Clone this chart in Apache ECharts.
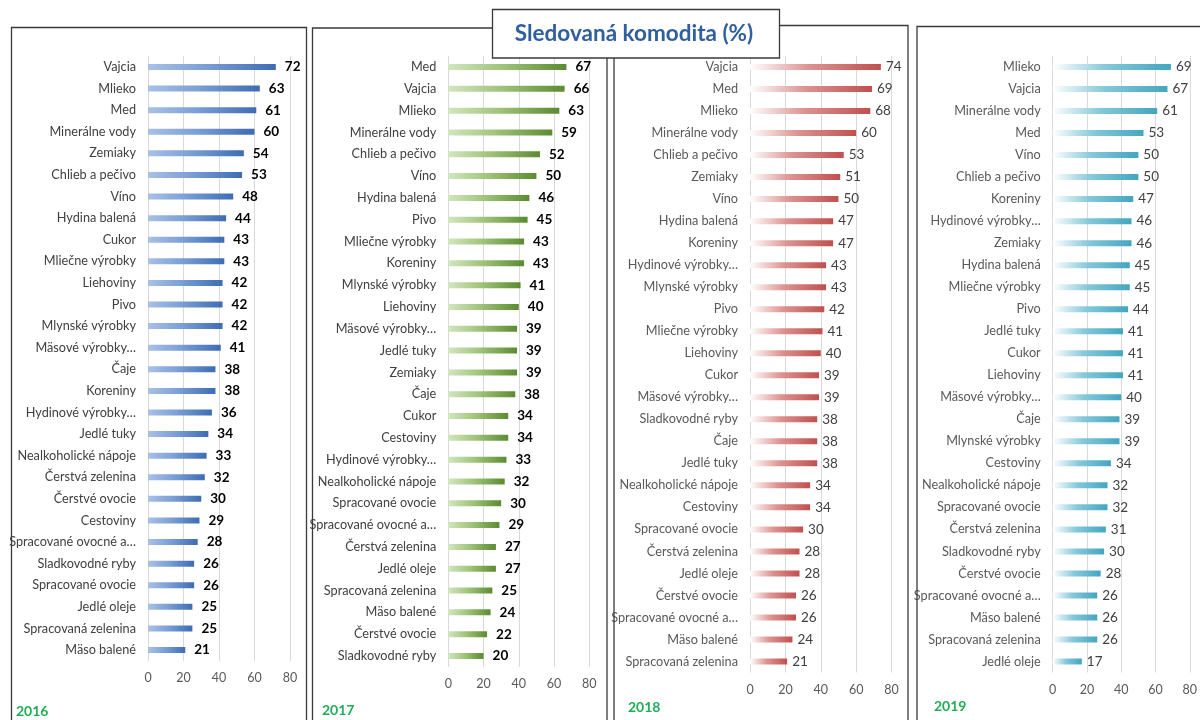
<!DOCTYPE html>
<html>
<head>
<meta charset="utf-8">
<script src="https://cdn.jsdelivr.net/npm/echarts@6/dist/echarts.min.js"></script>
<style>
html,body{margin:0;padding:0;background:#fff;}
#chart{width:1200px;height:720px;}
</style>
</head>
<body>
<div id="chart"></div>
<script>
const titleText = 'Sledovaná komodita (%)';
const years = ['2016', '2017', '2018', '2019'];
const axisTicks = [0, 20, 40, 60, 80];

const cats2016 = ['Vajcia','Mlieko','Med','Minerálne vody','Zemiaky','Chlieb a pečivo','Víno','Hydina balená','Cukor','Mliečne výrobky','Liehoviny','Pivo','Mlynské výrobky','Mäsové výrobky…','Čaje','Koreniny','Hydinové výrobky…','Jedlé tuky','Nealkoholické nápoje','Čerstvá zelenina','Čerstvé ovocie','Cestoviny','Spracované ovocné a…','Sladkovodné ryby','Spracované ovocie','Jedlé oleje','Spracovaná zelenina','Mäso balené'];
const vals2016 = [72,63,61,60,54,53,48,44,43,43,42,42,42,41,38,38,36,34,33,32,30,29,28,26,26,25,25,21];

const cats2017 = ['Med','Vajcia','Mlieko','Minerálne vody','Chlieb a pečivo','Víno','Hydina balená','Pivo','Mliečne výrobky','Koreniny','Mlynské výrobky','Liehoviny','Mäsové výrobky…','Jedlé tuky','Zemiaky','Čaje','Cukor','Cestoviny','Hydinové výrobky…','Nealkoholické nápoje','Spracované ovocie','Spracované ovocné a…','Čerstvá zelenina','Jedlé oleje','Spracovaná zelenina','Mäso balené','Čerstvé ovocie','Sladkovodné ryby'];
const vals2017 = [67,66,63,59,52,50,46,45,43,43,41,40,39,39,39,38,34,34,33,32,30,29,27,27,25,24,22,20];

const cats2018 = ['Vajcia','Med','Mlieko','Minerálne vody','Chlieb a pečivo','Zemiaky','Víno','Hydina balená','Koreniny','Hydinové výrobky…','Mlynské výrobky','Pivo','Mliečne výrobky','Liehoviny','Cukor','Mäsové výrobky…','Sladkovodné ryby','Čaje','Jedlé tuky','Nealkoholické nápoje','Cestoviny','Spracované ovocie','Čerstvá zelenina','Jedlé oleje','Čerstvé ovocie','Spracované ovocné a…','Mäso balené','Spracovaná zelenina'];
const vals2018 = [74,69,68,60,53,51,50,47,47,43,43,42,41,40,39,39,38,38,38,34,34,30,28,28,26,26,24,21];

const cats2019 = ['Mlieko','Vajcia','Minerálne vody','Med','Víno','Chlieb a pečivo','Koreniny','Hydinové výrobky…','Zemiaky','Hydina balená','Mliečne výrobky','Pivo','Jedlé tuky','Cukor','Liehoviny','Mäsové výrobky…','Čaje','Mlynské výrobky','Cestoviny','Nealkoholické nápoje','Spracované ovocie','Čerstvá zelenina','Sladkovodné ryby','Čerstvé ovocie','Spracované ovocné a…','Mäso balené','Spracovaná zelenina','Jedlé oleje'];
const vals2019 = [69,67,61,53,50,50,47,46,46,45,45,44,41,41,41,40,39,39,34,32,32,31,30,28,26,26,26,17];

const allCats = [cats2016, cats2017, cats2018, cats2019];
const allVals = [vals2016, vals2017, vals2018, vals2019];

const FONT = 'Lato, "Open Sans", sans-serif';

// layout per panel
const grids = [
  {left: 148, top: 56.2, width: 142, height: 604.6},
  {left: 448.3, top: 56.1, width: 141, height: 610.8},
  {left: 750, top: 56, width: 141.5, height: 616.5},
  {left: 1052.7, top: 56, width: 141, height: 616.5}
];
const panelRects = [
  {x: 11.5, y: 27.5, w: 295, h: 720},
  {x: 312.5, y: 28, w: 294.5, h: 720},
  {x: 614, y: 25.5, w: 294, h: 720},
  {x: 917, y: 26.5, w: 300, h: 720}
];
const yearPos = [[16, 711], [322, 710], [628, 707], [934, 706]];
const gradients = [
  ['#a9c1e6', '#7b9fd6', '#3d6cb4'],
  ['#d2e6bf', '#a0c47b', '#5b8b30'],
  ['#ffffff', '#dc9391', '#c0504d'],
  ['#ffffff', '#86c8da', '#42a6c0']
];
const catColors = ['#404040', '#404040', '#595959', '#595959'];
const labelStyles = [
  {color: '#000000', fontWeight: 'bold', fontSize: 13.5, distance: 9},
  {color: '#000000', fontWeight: 'bold', fontSize: 13.5, distance: 9},
  {color: '#404040', fontWeight: 'normal', fontSize: 13.5, distance: 5},
  {color: '#404040', fontWeight: 'normal', fontSize: 13.5, distance: 5}
];

const chart = echarts.init(document.getElementById('chart'));

const option = {
  animation: false,
  backgroundColor: '#ffffff',
  grid: grids.map(g => ({left: g.left, top: g.top, width: g.width, height: g.height, containLabel: false})),
  xAxis: grids.map((g, i) => ({
    type: 'value', gridIndex: i, min: axisTicks[0], max: axisTicks[axisTicks.length - 1], interval: 20,
    axisLine: {show: false}, axisTick: {show: false},
    splitLine: {show: true, lineStyle: {color: '#d9d9d9', width: 1}},
    axisLabel: {color: '#595959', fontSize: 12.5, fontFamily: FONT, margin: 11}
  })),
  yAxis: grids.map((g, i) => ({
    type: 'category', gridIndex: i, inverse: true, data: allCats[i],
    axisLine: {show: false}, axisTick: {show: false},
    axisLabel: {color: catColors[i], fontSize: 12.7, fontFamily: FONT, margin: 12, interval: 0}
  })),
  series: allVals.map((vals, i) => ({
    type: 'bar', xAxisIndex: i, yAxisIndex: i, data: vals, barWidth: 6,
    itemStyle: {
      color: new echarts.graphic.LinearGradient(0, 0, 1, 0, [
        {offset: 0, color: gradients[i][0]},
        {offset: 0.45, color: gradients[i][1]},
        {offset: 1, color: gradients[i][2]}
      ])
    },
    label: {
      show: true, position: 'right', distance: labelStyles[i].distance,
      color: labelStyles[i].color, fontWeight: labelStyles[i].fontWeight,
      fontSize: labelStyles[i].fontSize, fontFamily: FONT
    }
  })),
  graphic: [
    ...panelRects.map(r => ({
      type: 'rect', shape: {x: r.x, y: r.y, width: r.w, height: r.h},
      style: {fill: 'none', stroke: '#3a3a3a', lineWidth: 1.3}, z: 50, silent: true
    })),
    ...years.map((y, i) => ({
      type: 'text', x: yearPos[i][0], y: yearPos[i][1],
      style: {text: y, fill: '#1fae55', font: 'bold 14px ' + FONT, textVerticalAlign: 'middle', textAlign: 'left'},
      z: 60, silent: true
    })),
    {
      type: 'rect', shape: {x: 492.5, y: 9.5, width: 287, height: 48.5},
      style: {fill: '#ffffff', stroke: '#3a3a3a', lineWidth: 1.3}, z: 100, silent: true
    },
    {
      type: 'text', x: 634, y: 34,
      style: {text: titleText, fill: '#2f5f9e', font: 'bold 22.5px ' + FONT, textAlign: 'center', textVerticalAlign: 'middle'},
      z: 101, silent: true
    }
  ]
};
chart.setOption(option);
</script>
</body>
</html>
